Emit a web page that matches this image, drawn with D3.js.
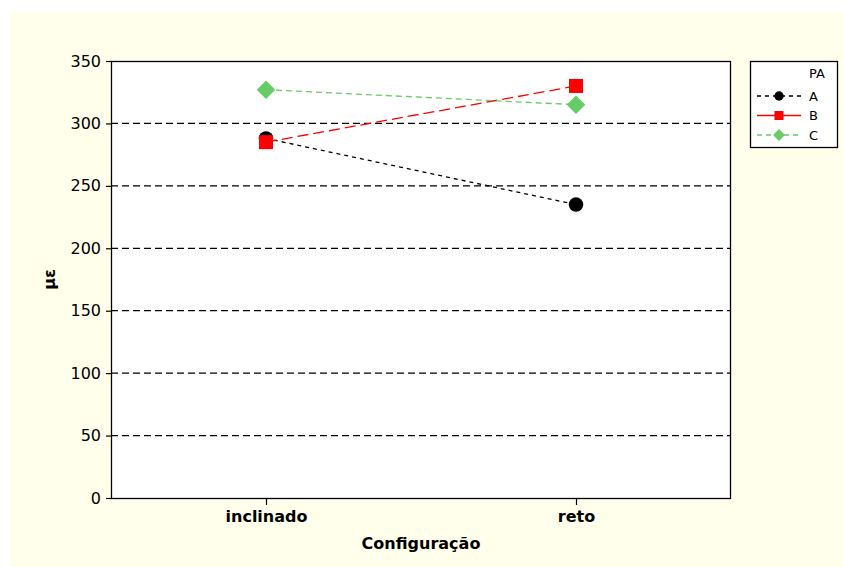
<!DOCTYPE html>
<html>
<head>
<meta charset="utf-8">
<script src="https://cdn.jsdelivr.net/npm/d3@7"></script>
<style>
  html, body { margin: 0; padding: 0; background: #ffffff; }
  svg { display: block; font-family: "DejaVu Sans", Verdana, sans-serif; }
</style>
</head>
<body>
<svg id="chart" width="843" height="567"></svg>
<script>
// Configuração (x) vs deformação média με (y), por nível de PA
const categories = ["inclinado", "reto"];
const seriesNames = ["A", "B", "C"];
const valuesA = [288, 235];
const valuesB = [285, 330];
const valuesC = [327, 315];
const yTicks = [0, 50, 100, 150, 200, 250, 300, 350];

const series = [
  { name: seriesNames[0], values: valuesA, color: "#000000", dash: "4,4", legendDash: "4,4", shape: "circle" },
  { name: seriesNames[1], values: valuesB, color: "#ff0000", dash: "11,5", legendDash: null, shape: "square" },
  { name: seriesNames[2], values: valuesC, color: "#66cc66", dash: "6,4", legendDash: "5,4", shape: "diamond" }
];

const svg = d3.select("#chart");

// outer pale-yellow panel
svg.append("rect").attr("x", 10).attr("y", 12).attr("width", 833).attr("height", 555)
  .attr("fill", "#ffffeb");

const plot = { left: 111, top: 61, right: 731, bottom: 498 };

const x = d3.scalePoint().domain(categories).range([plot.left, plot.right]).padding(0.5);
const y = d3.scaleLinear().domain([0, 350]).range([plot.bottom, plot.top]);

// plot area
svg.append("rect")
  .attr("x", plot.left).attr("y", plot.top)
  .attr("width", plot.right - plot.left).attr("height", plot.bottom - plot.top)
  .attr("fill", "#ffffff");

// horizontal dashed gridlines
svg.append("g").selectAll("line")
  .data(yTicks.filter(d => d > 0 && d < 350))
  .join("line")
  .attr("x1", plot.left).attr("x2", plot.right)
  .attr("y1", d => y(d)).attr("y2", d => y(d))
  .attr("stroke", "#000").attr("stroke-width", 1.2)
  .attr("stroke-dasharray", "7,4");

// border
svg.append("rect")
  .attr("x", plot.left + 0.5).attr("y", plot.top + 0.5)
  .attr("width", plot.right - plot.left - 1).attr("height", plot.bottom - plot.top)
  .attr("fill", "none").attr("stroke", "#000").attr("stroke-width", 1.3);

// y axis
const yAxis = svg.append("g")
  .attr("transform", `translate(${plot.left},0)`)
  .call(d3.axisLeft(y).tickValues(yTicks).tickSize(5).tickPadding(5));
yAxis.select(".domain").remove();
yAxis.selectAll("line").attr("stroke", "#000").attr("stroke-width", 1.2);
yAxis.selectAll("text").attr("font-size", 16).attr("fill", "#000")
  .attr("font-family", "DejaVu Sans, Verdana, sans-serif");

// x axis
const xAxis = svg.append("g")
  .attr("transform", `translate(0,${plot.bottom})`)
  .call(d3.axisBottom(x).tickSize(7).tickPadding(6));
xAxis.select(".domain").remove();
xAxis.selectAll("line").attr("stroke", "#000").attr("stroke-width", 1.2);
xAxis.selectAll("text").attr("font-size", 16).attr("font-weight", "bold").attr("fill", "#000")
  .attr("font-family", "DejaVu Sans, Verdana, sans-serif");

// axis titles
svg.append("text")
  .attr("x", (plot.left + plot.right) / 2).attr("y", 549)
  .attr("text-anchor", "middle").attr("font-size", 16).attr("font-weight", "bold")
  .text("Configuração");

svg.append("text")
  .attr("transform", `translate(55,${(plot.top + plot.bottom) / 2}) rotate(-90)`)
  .attr("text-anchor", "middle").attr("font-size", 16).attr("font-weight", "bold")
  .text("με");

// markers
function marker(g, shape, color, size) {
  if (shape === "circle") {
    g.append("circle").attr("r", size * 0.52).attr("fill", color);
  } else if (shape === "square") {
    g.append("rect").attr("x", -size / 2).attr("y", -size / 2)
      .attr("width", size).attr("height", size).attr("fill", color);
  } else {
    const s = size * 0.66;
    g.append("path").attr("d", `M0,${-s}L${s},0L0,${s}L${-s},0Z`).attr("fill", color);
  }
}

const line = d3.line().x((d, i) => x(categories[i])).y(d => y(d));

series.forEach(s => {
  svg.append("path")
    .datum(s.values)
    .attr("d", line)
    .attr("fill", "none")
    .attr("stroke", s.color)
    .attr("stroke-width", 1.3)
    .attr("stroke-dasharray", s.dash);
});

series.forEach(s => {
  s.values.forEach((v, i) => {
    const g = svg.append("g").attr("transform", `translate(${x(categories[i])},${y(v)})`);
    marker(g, s.shape, s.color, 14);
  });
});

// legend
const lg = svg.append("g");
lg.append("rect").attr("x", 750.5).attr("y", 61.5).attr("width", 87).attr("height", 86)
  .attr("fill", "#ffffff").attr("stroke", "#000").attr("stroke-width", 1.3);
lg.append("text").attr("x", 809).attr("y", 78).attr("font-size", 13).text("PA");
series.forEach((s, i) => {
  const yy = 96 + i * 19.5;
  lg.append("line").attr("x1", 757).attr("x2", 801).attr("y1", yy).attr("y2", yy)
    .attr("stroke", s.color).attr("stroke-width", 1.3)
    .attr("stroke-dasharray", s.legendDash);
  const g = lg.append("g").attr("transform", `translate(779,${yy})`);
  marker(g, s.shape, s.color, 9);
  lg.append("text").attr("x", 809).attr("y", yy + 4.5).attr("font-size", 13).text(s.name);
});
</script>
</body>
</html>
